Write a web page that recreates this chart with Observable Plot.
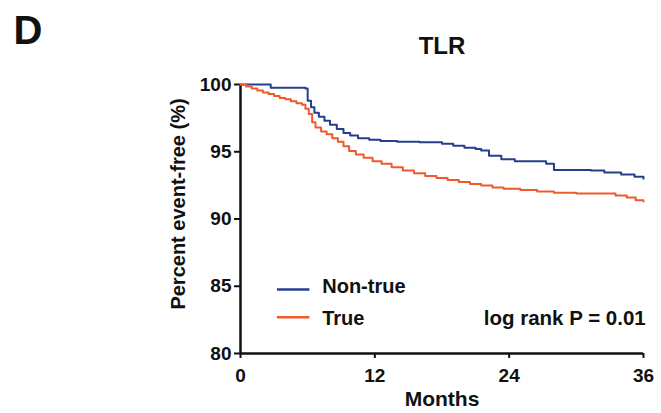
<!DOCTYPE html>
<html>
<head>
<meta charset="utf-8">
<script src="https://cdn.jsdelivr.net/npm/d3@7"></script>
<script src="https://cdn.jsdelivr.net/npm/@observablehq/plot@0.6"></script>
<style>
  html, body { margin: 0; padding: 0; background: #fff; }
  #chart svg { display: block; }
</style>
</head>
<body>
<div id="chart"></div>
<script>
const nonTrueMonths = [0, 2.7, 5.8, 6.0, 6.3, 6.6, 7.0, 7.5, 8.0, 8.6, 9.2, 9.8, 10.5, 11.5, 12.5, 14, 16, 18, 19, 20, 21, 21.5, 22.2, 23.3, 24.5, 27.3, 28.0, 31.3, 32.5, 34, 35.2, 36];
const nonTrueValues = [100, 99.75, 99.7, 98.8, 98.3, 97.9, 97.6, 97.3, 97.0, 96.7, 96.4, 96.2, 96.0, 95.9, 95.8, 95.75, 95.7, 95.6, 95.45, 95.3, 95.2, 95.1, 94.7, 94.45, 94.3, 94.1, 93.65, 93.6, 93.45, 93.3, 93.15, 93.0];
const trueMonths = [0, 0.5, 1, 1.5, 2, 2.5, 3, 3.5, 4, 4.5, 5, 5.5, 5.8, 6.1, 6.4, 6.7, 7.2, 7.7, 8.2, 8.7, 9.2, 9.7, 10.3, 11, 11.8, 12.6, 13.5, 14.5, 15.5, 16.5, 17.5, 18.5, 19.5, 20.5, 21.5, 22.5, 23.5, 25, 26.5, 28, 30, 32, 33.5, 34.5, 35.3, 36];
const trueValues = [100, 99.85, 99.7, 99.55, 99.4, 99.3, 99.15, 99.0, 98.9, 98.75, 98.6, 98.5, 98.2, 97.8, 97.2, 96.8, 96.5, 96.3, 96.0, 95.75, 95.4, 95.05, 94.8, 94.55, 94.3, 94.1, 93.85, 93.6, 93.4, 93.2, 93.05, 92.9, 92.75, 92.6, 92.5, 92.35, 92.25, 92.15, 92.05, 91.95, 91.9, 91.9, 91.75, 91.6, 91.4, 91.3];
const seriesNames = ["Non-true", "True"];
const seriesColors = ["#243f8c", "#ee5a2c"];
const xTicks = [0, 12, 24, 36];
const yTicks = [80, 85, 90, 95, 100];
const title = "TLR";
const panelLabel = "D";
const pText = "log rank P = 0.01";
const xLabel = "Months";
const yLabel = "Percent event-free (%)";

const nonTrue = nonTrueMonths.map((m, i) => ({month: m, value: nonTrueValues[i], series: seriesNames[0]}));
const trueS = trueMonths.map((m, i) => ({month: m, value: trueValues[i], series: seriesNames[1]}));
const data = nonTrue.concat(trueS);

const W = 661, H = 413;
const mL = 240, mR = 18, mT = 84, mB = 60;
const font = "Liberation Sans, Arial, sans-serif";

// legend rows (placement in data space)
const legend = [
  {series: seriesNames[0], lineY: 84.75, textY: 85.0},
  {series: seriesNames[1], lineY: 82.7, textY: 82.6}
];

const chart = Plot.plot({
  width: W,
  height: H,
  marginLeft: mL,
  marginRight: mR,
  marginTop: mT,
  marginBottom: mB,
  style: {fontFamily: font, fontWeight: "bold", color: "#111", background: "#fff"},
  x: {domain: [0, 36], ticks: xTicks},
  y: {domain: [80, 100], ticks: yTicks},
  color: {domain: seriesNames, range: seriesColors},
  marks: [
    Plot.axisX(xTicks, {tickSize: 5, strokeWidth: 2, fontSize: 19, fontWeight: "bold", tickPadding: 10, label: null, fontFamily: font}),
    Plot.axisY(yTicks, {tickSize: 6, strokeWidth: 2, fontSize: 19, fontWeight: "bold", tickPadding: 3, label: null, fontFamily: font}),
    Plot.text([yLabel], {frameAnchor: "left", textAnchor: "middle", dx: -62, dy: -15, rotate: -90, fontSize: 20, fontWeight: "bold", fontFamily: font}),
    Plot.text([xLabel], {frameAnchor: "bottom", textAnchor: "middle", dy: 52, fontSize: 21, fontWeight: "bold", fontFamily: font}),
    Plot.ruleX([0], {y1: 80, y2: 100, strokeWidth: 2.5, stroke: "#111"}),
    Plot.ruleY([80], {x1: 0, x2: 36, strokeWidth: 2.5, stroke: "#111"}),
    Plot.line(data, {x: "month", y: "value", stroke: "series", curve: "step-after", strokeWidth: 2}),
    Plot.ruleY(legend, {y: "lineY", x1: 3.3, x2: 6.2, stroke: "series", strokeWidth: 2.5}),
    Plot.text(legend, {x: 7.3, y: "textY", text: "series", textAnchor: "start", fontSize: 20, fontWeight: "bold", fontFamily: font}),
    Plot.text([pText], {x: 36.2, y: 82.6, textAnchor: "end", fontSize: 20.5, fontWeight: "bold", fontFamily: font}),
    Plot.text([title], {frameAnchor: "top", textAnchor: "middle", lineAnchor: "bottom", dy: -31, fontSize: 24, fontWeight: "bold", fontFamily: font}),
    Plot.text([panelLabel], {frameAnchor: "top-left", textAnchor: "start", lineAnchor: "bottom", dx: -227, dy: -41, fontSize: 40, fontWeight: "bold", fontFamily: font})
  ]
});
document.getElementById("chart").appendChild(chart);
</script>
</body>
</html>
